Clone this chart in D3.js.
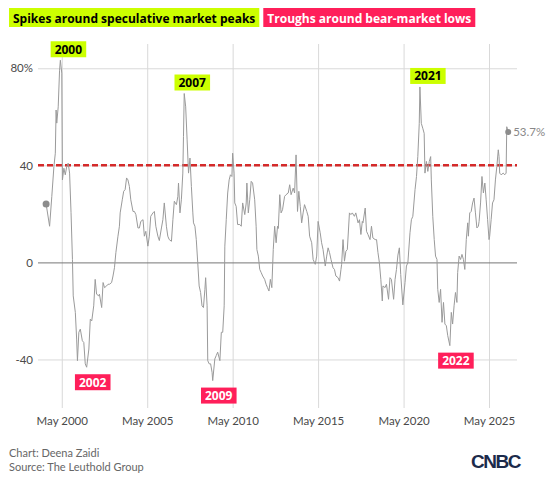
<!DOCTYPE html>
<html>
<head>
<meta charset="utf-8">
<script src="https://cdn.jsdelivr.net/npm/d3@7"></script>
<style>
  body { margin: 0; background: #fff; font-family: Lato, "Open Sans", sans-serif; }
  .tick text { font-family: Lato, "Open Sans", sans-serif; fill: #4a4a4a; font-size: 11.5px; }
</style>
</head>
<body>
<div class="chart"></div>
<script>
// series (dates as yyyy-mm-dd, values in %)
var dates = [
  '1999-06-01','1999-08-15','1999-10-01','1999-11-15','1999-12-15','2000-01-01','2000-01-15','2000-02-15','2000-03-15','2000-04-01',
  '2000-05-01','2000-05-15','2000-06-15','2000-07-15','2000-08-15','2000-09-15','2000-10-15','2000-11-15','2000-12-15','2001-01-01',
  '2001-02-15','2001-03-15','2001-04-01','2001-05-01','2001-06-01','2001-07-15','2001-08-15','2001-09-15','2001-10-15','2001-12-01',
  '2002-01-01','2002-02-01','2002-03-15','2002-04-15','2002-05-15','2002-07-01','2002-07-15','2002-09-01','2002-10-01','2002-11-01',
  '2002-12-15','2003-01-15','2003-02-15','2003-04-01','2003-05-01','2003-06-01','2003-07-01','2003-08-15','2003-09-15','2003-10-01',
  '2003-11-15','2003-12-15','2004-01-15','2004-02-15','2004-03-15','2004-04-15','2004-05-15','2004-07-01','2004-08-01','2004-09-01',
  '2004-10-15','2004-11-15','2004-12-15','2005-02-01','2005-03-01','2005-04-01','2005-05-15','2005-06-15','2005-07-15','2005-09-01',
  '2005-10-01','2005-11-01','2005-12-15','2006-01-15','2006-03-01','2006-04-01','2006-05-01','2006-06-15','2006-07-15','2006-08-15',
  '2006-10-01','2006-11-01','2006-12-01','2007-01-15','2007-02-15','2007-03-01','2007-04-01','2007-05-01','2007-06-01','2007-06-15',
  '2007-07-01','2007-08-01','2007-09-01','2007-10-01','2007-11-01','2007-12-01','2008-01-01','2008-01-15','2008-02-15','2008-03-15',
  '2008-04-15','2008-05-15','2008-06-15','2008-07-15','2008-08-15','2008-09-15','2008-10-01','2008-11-01','2008-11-15','2008-12-15',
  '2009-01-15','2009-02-15','2009-03-01','2009-04-15','2009-05-15','2009-06-15','2009-08-01','2009-09-01','2009-10-01','2009-11-01',
  '2009-11-15','2009-12-15','2010-01-15','2010-02-15','2010-03-15','2010-04-15','2010-05-01','2010-06-01','2010-06-15','2010-07-15',
  '2010-08-15','2010-10-01','2010-11-01','2010-12-01','2011-01-15','2011-02-15','2011-03-01','2011-04-01','2011-05-01','2011-06-01',
  '2011-07-01','2011-08-15','2011-09-15','2011-10-01','2011-11-01','2011-12-01','2012-01-01','2012-02-01','2012-03-15','2012-04-15',
  '2012-05-15','2012-06-15','2012-07-15','2012-08-15','2012-09-15','2012-10-15','2012-11-15','2012-12-15','2013-01-01','2013-02-01',
  '2013-03-01','2013-04-01','2013-05-15','2013-06-15','2013-08-01','2013-09-01','2013-10-01','2013-11-15','2013-12-15','2014-01-15',
  '2014-02-15','2014-03-15','2014-04-15','2014-05-15','2014-06-15','2014-07-15','2014-09-01','2014-10-01','2014-11-01','2014-12-15',
  '2015-01-15','2015-03-01','2015-04-01','2015-05-01','2015-06-15','2015-07-15','2015-08-15','2015-10-01','2015-11-01','2015-12-01',
  '2016-01-01','2016-02-01','2016-03-15','2016-04-15','2016-05-15','2016-07-01','2016-08-01','2016-09-01','2016-09-15','2016-10-15',
  '2016-11-15','2016-12-15','2017-01-15','2017-03-01','2017-04-01','2017-05-01','2017-06-15','2017-07-15','2017-09-01','2017-10-01',
  '2017-11-01','2017-12-01','2017-12-15','2018-02-01','2018-03-01','2018-04-01','2018-05-15','2018-06-15','2018-07-15','2018-09-01',
  '2018-10-01','2018-11-01','2018-12-01','2019-01-01','2019-02-01','2019-02-15','2019-04-01','2019-05-01','2019-06-15','2019-07-15',
  '2019-08-15','2019-10-01','2019-11-01','2019-12-01','2020-01-01','2020-02-01','2020-03-01','2020-04-15','2020-06-01','2020-07-01',
  '2020-08-01','2020-09-15','2020-10-15','2020-11-15','2021-01-01','2021-02-01','2021-03-01','2021-04-01','2021-04-15','2021-05-15',
  '2021-06-15','2021-07-15','2021-08-01','2021-09-01','2021-10-01','2021-11-01','2021-12-01','2021-12-15','2022-01-15','2022-02-15',
  '2022-03-15','2022-04-15','2022-05-01','2022-06-01','2022-07-01','2022-08-01','2022-09-01','2022-10-01','2022-11-01','2022-12-01',
  '2023-01-15','2023-02-15','2023-03-15','2023-04-15','2023-05-15','2023-06-15','2023-07-01','2023-08-01','2023-09-01','2023-10-01',
  '2023-11-01','2023-12-01','2024-01-01','2024-02-01','2024-02-15','2024-03-15','2024-04-15','2024-05-15','2024-06-15','2024-07-15',
  '2024-08-15','2024-09-15','2024-10-01','2024-11-01','2024-12-01','2025-01-01','2025-02-01','2025-03-01','2025-04-01','2025-05-01',
  '2025-05-15','2025-06-15','2025-07-15','2025-08-15','2025-09-15','2025-10-15','2025-11-15','2025-12-01','2025-12-15','2026-01-15',
  '2026-03-01','2026-04-01','2026-05-01','2026-05-15','2026-06-15'
];
var values = [
  24.1,14.9,27.2,39.5,45,62.8,57.4,64.1,79.2,83.3,
  78,34,38.8,36.1,39.5,40.9,36.8,20.5,1.2,-13.8,
  -20.6,-31.6,-40.5,-28.8,-27.5,-32.3,-33,-41.8,-43.2,-35.7,
  -23.4,-24.1,-17.9,-7,-13.1,-13.8,-13.1,-18.6,-8.3,-10.4,
  -9.7,-9,-9,-8.3,-5.6,-2.2,4,10.8,14.9,20.4,
  25.8,29.3,30,34.8,34,31.3,25.8,21,21,19.7,
  14.2,14.2,16.9,17.6,10.8,12.8,6.7,10.8,19,20.4,
  21,14.9,10.8,9,14.2,17.6,24.5,14.9,10.8,9.4,
  8.7,17.6,25.2,23.8,27.2,32.7,20.4,25.8,36.8,51.8,
  69.6,64.1,50.5,36.8,43,31.3,20.4,16.3,14.9,9.4,
  -0.1,-9.7,-12.4,-17.9,-18.6,-11.1,-6.3,-17.9,-40.5,-41.8,
  -41.8,-45.3,-48.7,-39.8,-38.4,-37,-40.5,-28.8,-28.8,-17.9,
  6.7,17.6,28.6,34,36.1,35.4,45,36.8,24.5,23.1,
  15.6,15.6,14.9,24.5,19.7,24.5,32.7,20.4,25.8,33.4,
  32.7,25.8,14.9,5.3,2.6,-2.9,-4.2,-5.6,-7,-9,
  -10.4,-11.8,-7,-10.4,5.3,14.9,8.1,14.9,14,27.9,
  20.4,21.7,27.2,27.9,28.6,32,27.9,30.6,28.6,44.3,
  21,29.3,23.1,16.3,20.4,23.8,21,19,10.8,8.1,
  1.2,-0.8,2.6,16.9,12.2,8.1,5.3,-1.5,2.6,6,
  4,1.2,-2.2,-2.9,-5.6,-6.3,-7.7,-2.9,-0.8,9.4,
  0.5,4.6,5.3,20.4,19.7,20.4,19,20.4,16.3,17.6,
  11.5,16.9,16.3,22.4,12.8,11.5,9.4,14.9,10.1,9.4,
  9.4,4,-0.1,-7,-15.9,-9.7,-10.4,-9,-15.2,-6.3,
  -7,-15.2,-7,-2.9,3,6,-5,-17.5,-8.3,-1.5,
  -0.1,12.2,17.6,19,30,35.4,43.6,57.3,72.3,57.3,
  55.3,53.2,36.8,41.6,37.5,41.6,43.6,34,19,9.4,
  2.6,1.2,-11.1,-16.5,-11.1,-24.7,-16.5,-25.4,-26.1,-30.2,
  -34.3,-20.6,-25.4,-17.9,-12.4,-16.5,-4.2,2.6,1.2,3.3,
  1.2,-2.9,9.4,16.3,10.8,20.4,21,24.5,26.5,20.4,
  14.2,14.9,16.9,24.5,35.4,28.6,32.7,25.8,17.6,9.4,
  10.8,17.6,24.5,25.8,34,39.5,46.4,43.6,36.8,36.1,
  36.8,36.1,36.8,55.9,53.7
];

var yTicks = [-40, 0, 40, 80];
var xTickYears = [2000, 2005, 2010, 2015, 2020, 2025];
var threshold = 40;

// annotation labels
var peakLabels = [
  { text: '2000', date: '2000-04-01', value: 83.3 },
  { text: '2007', date: '2007-07-01', value: 69.6 },
  { text: '2021', date: '2021-04-15', value: 72.3 }
];
var troughLabels = [
  { text: '2002', date: '2001-10-15', value: -43.2 },
  { text: '2009', date: '2009-03-01', value: -48.7 },
  { text: '2022', date: '2023-01-15', value: -34.3 }
];
var headerLabels = ['Spikes around speculative market peaks', 'Troughs around bear-market lows'];

var svgWidth = 550;
var svgHeight = 480;
var margin = { top: 44, right: 33, bottom: 72, left: 38 };
var width = svgWidth - margin.left - margin.right;
var height = svgHeight - margin.top - margin.bottom;

var parse = d3.timeParse('%Y-%m-%d');
var data = dates.map(function(d, i) { return { date: parse(d), value: values[i] }; });

var svg = d3.select('.chart').append('svg')
  .attr('width', svgWidth)
  .attr('height', svgHeight);

var chart = svg.append('g').attr('transform', `translate(${margin.left}, ${margin.top})`);

var x = d3.scaleTime()
  .domain([new Date(1998, 11, 10), new Date(2026, 11, 20)])
  .range([0, width]);
var y = d3.scaleLinear().domain([-60, 90]).range([height, 0]);

// vertical grid + x labels
var xAxis = d3.axisBottom(x)
  .tickValues(xTickYears.map(function(yr) { return new Date(yr, 4, 1); }))
  .tickFormat(d3.timeFormat('May %Y'))
  .tickSize(-height)
  .tickPadding(9);
chart.append('g')
  .attr('transform', `translate(0, ${height})`)
  .call(xAxis)
  .call(function(g) {
    g.select('.domain').remove();
    g.selectAll('.tick line').attr('stroke', '#d9d9d9');
  });

// horizontal grid + y labels
var yAxis = d3.axisLeft(y)
  .tickValues(yTicks)
  .tickFormat(function(d) { return d === 80 ? d + '%' : d; })
  .tickSize(-width)
  .tickPadding(5);
chart.append('g')
  .call(yAxis)
  .call(function(g) {
    g.select('.domain').remove();
    g.selectAll('.tick line').attr('stroke', function(d) { return d === 0 ? '#777' : '#d9d9d9'; });
  });

// threshold line
chart.append('line')
  .attr('x1', 0).attr('x2', width)
  .attr('y1', y(threshold)).attr('y2', y(threshold))
  .attr('stroke', '#d42a2a')
  .attr('stroke-width', 2.5)
  .attr('stroke-dasharray', '6,3');

var line = d3.line()
  .x(function(d) { return x(d.date); })
  .y(function(d) { return y(d.value); });

chart.append('path')
  .datum(data)
  .attr('fill', 'none')
  .attr('stroke', '#9a9a9a')
  .attr('stroke-width', 1)
  .attr('d', line);

// start and end dots
var first = data[0];
var last = data[data.length - 1];
chart.append('circle').attr('cx', x(first.date)).attr('cy', y(first.value)).attr('r', 3.5).attr('fill', '#8c8c8c');
chart.append('circle').attr('cx', x(last.date)).attr('cy', y(last.value)).attr('r', 3).attr('fill', '#8c8c8c');
chart.append('text')
  .attr('x', x(last.date) + 5)
  .attr('y', y(last.value) + 4)
  .style('font-size', '11.5px')
  .style('fill', '#888')
  .text(last.value + '%');

// boxed labels
function boxLabel(g, text, cx, cy, bg, fg, size, padX) {
  var t = g.append('text')
    .attr('x', cx).attr('y', cy)
    .attr('text-anchor', 'middle')
    .attr('dominant-baseline', 'central')
    .style('font-family', '"Open Sans", sans-serif')
    .style('font-size', size + 'px')
    .style('font-weight', 'bold')
    .style('fill', fg)
    .text(text);
  var b = t.node().getBBox();
  g.insert('rect', function() { return t.node(); })
    .attr('x', b.x - padX).attr('y', cy - 8)
    .attr('width', b.width + padX * 2).attr('height', 16)
    .attr('fill', bg);
}

peakLabels.forEach(function(p) {
  boxLabel(chart, p.text, x(parse(p.date)) + 8, y(p.value) - 11, '#ccff00', '#000', 12, 4);
});
troughLabels.forEach(function(p) {
  boxLabel(chart, p.text, x(parse(p.date)) + 6, y(p.value) + 15, '#ff1f5a', '#fff', 12, 4);
});

// header tags
var head = svg.append('g');
var hx = 9;
headerLabels.forEach(function(h, i) {
  var t = head.append('text')
    .attr('x', hx + 4).attr('y', 18)
    .attr('dominant-baseline', 'central')
    .style('font-family', '"Open Sans", sans-serif')
    .style('font-size', '12px')
    .style('font-weight', 'bold')
    .style('fill', i === 0 ? '#000' : '#fff')
    .text(h);
  var w = t.node().getComputedTextLength();
  head.insert('rect', function() { return t.node(); })
    .attr('x', hx).attr('y', 8)
    .attr('width', w + 8).attr('height', 19)
    .attr('fill', i === 0 ? '#ccff00' : '#ff1f5a');
  hx += w + 12;
});

// footer
svg.append('text').attr('x', 9).attr('y', 457).style('font-size', '11px').style('fill', '#666').text('Chart: Deena Zaidi');
svg.append('text').attr('x', 9).attr('y', 471).style('font-size', '11px').style('fill', '#666').text('Source: The Leuthold Group');
svg.append('text')
  .attr('x', 520).attr('y', 468)
  .attr('text-anchor', 'end')
  .style('font-family', '"Liberation Sans", Arial, sans-serif')
  .style('font-size', '19px')
  .style('font-weight', '900')
  .style('letter-spacing', '-1.5px')
  .style('fill', '#1c2b4b')
  .text('CNBC');
</script>
</body>
</html>
